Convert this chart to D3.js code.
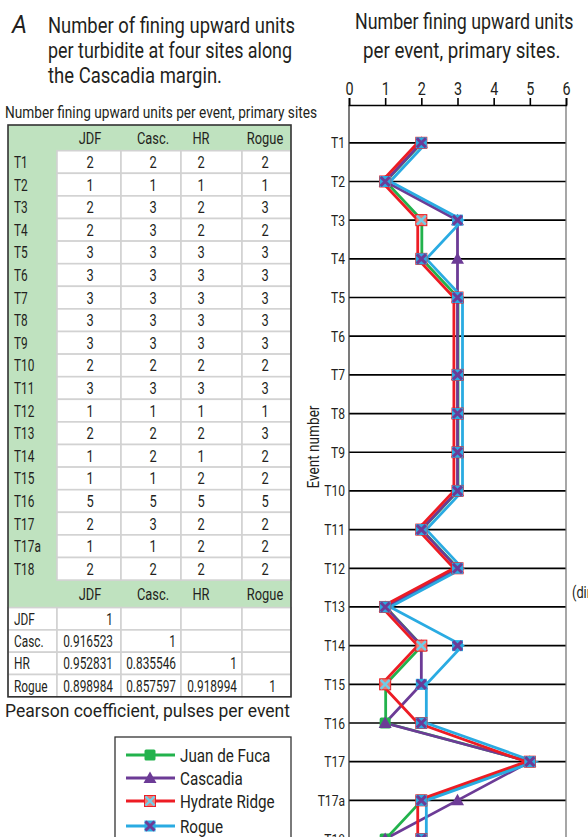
<!DOCTYPE html>
<html>
<head>
<meta charset="utf-8">
<script src="https://cdn.jsdelivr.net/npm/d3@7"></script>
<style>
  body { margin: 0; background: #fff; }
  svg { display: block; font-family: Roboto, "Liberation Sans", sans-serif; }
</style>
</head>
<body>
<svg id="fig" width="588" height="837"></svg>
<script>
// table data (left panel)
var sites = ["JDF", "Casc.", "HR", "Rogue"];
var tableEvents = ["T1","T2","T3","T4","T5","T6","T7","T8","T9","T10","T11","T12","T13","T14","T15","T16","T17","T17a","T18"];
var tableJdf   = [2,1,2,2,3,3,3,3,3,2,3,1,2,1,1,5,2,1,2];
var tableCasc  = [2,1,3,3,3,3,3,3,3,2,3,1,2,2,1,5,3,1,2];
var tableHr    = [2,1,2,2,3,3,3,3,3,2,3,1,2,1,2,5,2,2,2];
var tableRogue = [2,1,3,2,3,3,3,3,3,2,3,1,3,2,2,5,2,2,2];
// pearson matrix, lower triangle only
var pearson = [
  ["1", "", "", ""],
  ["0.916523", "1", "", ""],
  ["0.952831", "0.835546", "1", ""],
  ["0.898984", "0.857597", "0.918994", "1"]
];

// chart data (right panel), T6 has no point
var chartEvents = ["T1","T2","T3","T4","T5","T6","T7","T8","T9","T10","T11","T12","T13","T14","T15","T16","T17","T17a","T18"];
var chartJdf   = [2,1,2,2,3,null,3,3,3,3,2,3,1,2,1,1,5,2,1];
var chartCasc  = [2,1,3,3,3,null,3,3,3,3,2,3,1,2,2,1,5,3,1];
var chartHr    = [2,1,2,2,3,null,3,3,3,3,2,3,1,2,1,2,5,2,2];
var chartRogue = [2,1,3,2,3,null,3,3,3,3,2,3,1,3,2,2,5,2,2];
var xTicks = [0,1,2,3,4,5,6];

var svg = d3.select("#fig");
var ink = "#231f20";
var narrow = 0.78;   // fake condensed face

// text helper: either stretched to a length or squeezed with scaleX
function txt(g, str, x, y, o){
  var t;
  if (o.len) {
    t = g.append("text").attr("x", x).attr("y", y)
      .attr("textLength", o.len).attr("lengthAdjust", "spacingAndGlyphs");
  } else {
    t = g.append("text")
      .attr("transform", "translate(" + x + "," + y + ")" + (o.rot ? " rotate(" + o.rot + ")" : "") + " scale(" + (o.sx || narrow) + ",1)");
  }
  t.attr("font-size", o.size).attr("fill", ink)
    .attr("text-anchor", o.anchor || "start")
    .attr("font-style", o.italic ? "italic" : null)
    .text(str);
  return t;
}

// ---------- titles ----------
txt(svg, "A", 12, 33, {size: 25, italic: true, sx: 0.95});
var leftTitle = ["Number of fining upward units", "per turbidite at four sites along", "the Cascadia margin."];
var leftLens = [247, 244, 174];
leftTitle.forEach(function(t, i){
  txt(svg, t, 48, 33 + i*25, {size: 22, len: leftLens[i]});
});
var rightTitle = ["Number fining upward units", "per event, primary sites."];
var rightX = [355, 363], rightSx = [0.81, 0.85];
rightTitle.forEach(function(t, i){
  txt(svg, t, rightX[i], 29 + i*29, {size: 22, sx: rightSx[i]});
});

// ---------- table ----------
var colEdges = [8, 57, 121, 181, 242, 291];
var tTop = 125, headH = 25.7, rowH = 22.6;
var green = "#bfe2bf";
var cellLine = "#d2d2d2";
var tb = svg.append("g");

var bodyTop = tTop + headH;
var bodyBot = bodyTop + tableEvents.length*rowH;
var corrHeadBot = bodyBot + 27.5;
var corrRowH = 22.3;
var tBot = corrHeadBot + pearson.length*corrRowH;

tb.append("rect").attr("x", colEdges[0]).attr("y", tTop)
  .attr("width", colEdges[5]-colEdges[0]).attr("height", tBot-tTop).attr("fill", green);

var tableCols = [tableJdf, tableCasc, tableHr, tableRogue];
var valX = [90, 153, 201, 265];

// count cells
tableEvents.forEach(function(ev, r){
  var y0 = bodyTop + r*rowH;
  for (var c = 0; c < 4; c++) {
    tb.append("rect").attr("x", colEdges[c+1]).attr("y", y0)
      .attr("width", colEdges[c+2]-colEdges[c+1]).attr("height", rowH)
      .attr("fill", "#fff").attr("stroke", cellLine).attr("stroke-width", 1.6);
    txt(tb, tableCols[c][r], valX[c], y0 + rowH/2 + 6, {size: 16.5, anchor: "middle"});
  }
  txt(tb, ev, 14, y0 + rowH/2 + 6, {size: 16.5, sx: 0.72});
});

// header rows
sites.forEach(function(s, c){
  txt(tb, s, valX[c], tTop + headH/2 + 6.5, {size: 16.5, anchor: "middle"});
  txt(tb, s, valX[c], bodyBot + 27.5/2 + 6.5, {size: 16.5, anchor: "middle"});
});

// pearson rows
var corrX = [113, 176, 237, 276];
pearson.forEach(function(row, r){
  var y0 = corrHeadBot + r*corrRowH;
  tb.append("rect").attr("x", colEdges[0]).attr("y", y0)
    .attr("width", colEdges[1]-colEdges[0]).attr("height", corrRowH)
    .attr("fill", "#fff").attr("stroke", cellLine).attr("stroke-width", 1.6);
  txt(tb, sites[r], 14, y0 + corrRowH/2 + 6, {size: 16.5, sx: 0.72});
  row.forEach(function(v, c){
    tb.append("rect").attr("x", colEdges[c+1]).attr("y", y0)
      .attr("width", colEdges[c+2]-colEdges[c+1]).attr("height", corrRowH)
      .attr("fill", "#fff").attr("stroke", cellLine).attr("stroke-width", 1.6);
    txt(tb, v, corrX[c], y0 + corrRowH/2 + 6, {size: 16.5, anchor: "end", sx: 0.72});
  });
});

// outer border
tb.append("rect").attr("x", colEdges[0]).attr("y", tTop)
  .attr("width", colEdges[5]-colEdges[0]).attr("height", tBot-tTop)
  .attr("fill", "none").attr("stroke", "#333").attr("stroke-width", 1.6);

txt(svg, "Number fining upward units per event, primary sites", 5, 118, {size: 16, len: 312});
txt(svg, "Pearson coefficient, pulses per event", 5, 717, {size: 18, len: 285});

// ---------- chart ----------
var x = d3.scaleLinear().domain([0, 6]).range([349, 566]);
var y = d3.scalePoint().domain(chartEvents).range([142.8, 142.8 + 18*38.68]);
var axisTop = 105;

var ch = svg.append("g");

// gridlines per event
ch.selectAll("line.grid").data(chartEvents).enter().append("line")
  .attr("x1", x(0)).attr("x2", x(6))
  .attr("y1", function(d){ return y(d); }).attr("y2", function(d){ return y(d); })
  .attr("stroke", "#000").attr("stroke-width", 1.7);

// frame sides
ch.append("line").attr("x1", x(0)).attr("x2", x(0)).attr("y1", axisTop).attr("y2", 837)
  .attr("stroke", "#333").attr("stroke-width", 1.3);
ch.append("line").attr("x1", x(6)).attr("x2", x(6)).attr("y1", axisTop).attr("y2", 837)
  .attr("stroke", "#777").attr("stroke-width", 1.3);

// top axis
var xAxis = d3.axisTop(x).tickValues(xTicks).tickSize(7).tickPadding(3).tickFormat(d3.format("d"));
var ax = ch.append("g").attr("transform", "translate(0," + axisTop + ")").call(xAxis);
ax.select(".domain").attr("stroke", "#000").attr("stroke-width", 1.6);
ax.selectAll(".tick line").attr("stroke", "#000").attr("stroke-width", 1.6);
ax.selectAll(".tick text").attr("font-size", 17.5).attr("fill", ink)
  .attr("font-family", "Roboto, sans-serif")
  .attr("transform", "translate(0,-10) scale(0.82,1)")
  .attr("y", 0).attr("dy", "0");

// event labels
chartEvents.forEach(function(ev){
  txt(ch, ev, 345, y(ev) + 5.5, {size: 15.5, anchor: "end", sx: 0.78});
});

txt(ch, "Event number", 319, 447, {size: 17, anchor: "middle", rot: -90, sx: 0.8});
txt(ch, "(dimensionless)", 572, 598, {size: 16, sx: 0.8});

// series
var series = [
  {name: "Juan de Fuca",  vals: chartJdf,   color: "#22b24c", dx: 0.5,  marker: "square"},
  {name: "Cascadia",      vals: chartCasc,  color: "#6c3b96", dx: 0,    marker: "triangle"},
  {name: "Hydrate Ridge", vals: chartHr,    color: "#ed1c24", dx: -3.6, marker: "hr"},
  {name: "Rogue",         vals: chartRogue, color: "#2aabe2", dx: 5,    marker: "rogue"}
];

function pts(s){
  return chartEvents.map(function(ev, i){ return {ev: ev, v: s.vals[i]}; })
    .filter(function(p){ return p.v !== null; });
}

series.forEach(function(s){
  var line = d3.line()
    .x(function(p){ return x(p.v) + s.dx; })
    .y(function(p){ return y(p.ev); });
  ch.append("path").datum(pts(s)).attr("d", line)
    .attr("fill", "none").attr("stroke", s.color).attr("stroke-width", 2.8)
    .attr("stroke-linejoin", "miter");
});

function drawMarker(g, kind, cx, cy){
  if (kind === "square") {
    g.append("rect").attr("x", cx-5.5).attr("y", cy-5.5).attr("width", 11).attr("height", 11)
      .attr("rx", 1.5).attr("fill", "#22b24c");
  } else if (kind === "triangle") {
    g.append("path").attr("d", "M" + cx + "," + (cy-6.5) + "L" + (cx+6.5) + "," + (cy+5) + "L" + (cx-6.5) + "," + (cy+5) + "Z")
      .attr("fill", "#6c3b96");
  } else if (kind === "hr") {
    g.append("rect").attr("x", cx-5.5).attr("y", cy-5.5).attr("width", 11).attr("height", 11)
      .attr("fill", "#f07a72").attr("stroke", "#ed1c24").attr("stroke-width", 1);
    g.append("path").attr("d", "M" + (cx-4.5) + "," + (cy-4.5) + "L" + (cx+4.5) + "," + (cy+4.5) + "M" + (cx+4.5) + "," + (cy-4.5) + "L" + (cx-4.5) + "," + (cy+4.5))
      .attr("stroke", "#6fcde8").attr("stroke-width", 2.4);
  } else {
    g.append("rect").attr("x", cx-5.5).attr("y", cy-5.5).attr("width", 11).attr("height", 11)
      .attr("fill", "#2aabe2");
    g.append("path").attr("d", "M" + (cx-4.5) + "," + (cy-4.5) + "L" + (cx+4.5) + "," + (cy+4.5) + "M" + (cx+4.5) + "," + (cy-4.5) + "L" + (cx-4.5) + "," + (cy+4.5))
      .attr("stroke", "#6c3b96").attr("stroke-width", 3);
  }
}

series.forEach(function(s){
  var g = ch.append("g");
  pts(s).forEach(function(p){ drawMarker(g, s.marker, x(p.v), y(p.ev)); });
});

// ---------- legend ----------
var lg = svg.append("g");
lg.append("rect").attr("x", 115).attr("y", 737).attr("width", 176).attr("height", 110)
  .attr("fill", "#fff").attr("stroke", "#333").attr("stroke-width", 1.3);
var legRows = [755, 778, 801, 826];
series.forEach(function(s, i){
  var yy = legRows[i];
  lg.append("line").attr("x1", 126).attr("x2", 175).attr("y1", yy).attr("y2", yy)
    .attr("stroke", s.color).attr("stroke-width", 3.2);
  drawMarker(lg, s.marker, 150, yy);
  txt(lg, s.name, 180, yy + 6.5, {size: 19, sx: 0.8});
});
</script>
</body>
</html>
